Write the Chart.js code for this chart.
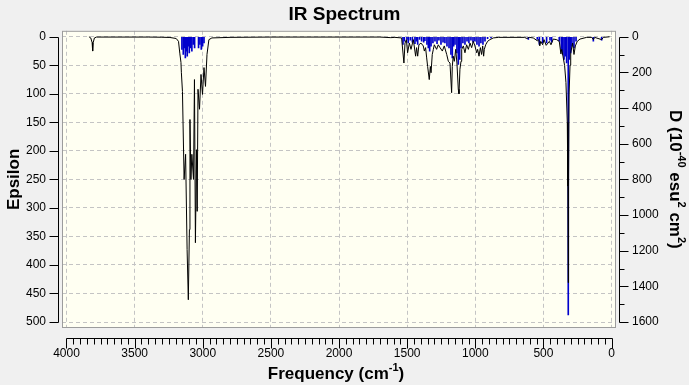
<!DOCTYPE html>
<html>
<head>
<meta charset="utf-8">
<script src="https://cdn.jsdelivr.net/npm/chart.js@4.4.1/dist/chart.umd.min.js"></script>
<style>
  html, body { margin: 0; padding: 0; background: #f0f0f0; }
  #wrap { width: 689px; height: 385px; }
</style>
</head>
<body>
<div id="wrap"><canvas id="irChart" width="689" height="385"></canvas></div>
<script>
// spectrum curve (cm-1, epsilon)
const specFreq = [3835, 3822, 3812, 3808, 3804, 3795, 3780, 3400, 3300, 3241, 3195, 3178, 3168, 3160, 3157, 3149, 3137, 3126, 3115, 3106, 3098, 3094, 3087, 3080, 3068, 3061, 3054, 3046, 3041, 3035, 3024, 3013, 3002, 2991, 2980, 2969, 2955, 2933, 2800, 2500, 1700, 1620, 1590, 1541, 1524, 1516, 1506, 1497, 1484, 1472, 1455, 1438, 1431, 1423, 1414, 1399, 1382, 1374, 1365, 1357, 1350, 1338, 1330, 1325, 1316, 1308, 1301, 1284, 1272, 1259, 1242, 1228, 1210, 1198, 1186, 1174, 1169, 1162, 1154, 1144, 1135, 1125, 1120, 1113, 1105, 1100, 1088, 1076, 1064, 1051, 1039, 1027, 1015, 1003, 990, 983, 973, 963, 954, 946, 939, 934, 924, 910, 893, 868, 831, 640, 620, 605, 575, 545, 535, 527, 520, 506, 496, 480, 457, 445, 428, 403, 384, 372, 366, 357, 345, 335, 325, 321, 318, 316, 312, 305, 300, 286, 276, 266, 252, 232, 183, 145, 134, 124, 73, 60, 15];
const specEps = [0, 2, 10, 25, 10, 2, 0.5, 0.5, 0.8, 1.2, 3, 8, 30, 45, 63, 96, 250, 206, 373, 461, 338, 145, 250, 206, 250, 75, 361, 198, 306, 92, 127, 66, 101, 54, 87, 31, 5, 2, 1, 0.5, 0.5, 1.5, 1, 2, 46, 11, 5, 28, 11, 22, 5, 34, 19, 34, 14, 11, 16, 25, 19, 37, 52, 75, 52, 63, 31, 22, 14, 22, 14, 19, 25, 16, 31, 43, 46, 98, 52, 34, 43, 22, 46, 92, 100, 57, 43, 22, 16, 28, 14, 22, 11, 19, 8, 16, 28, 22, 34, 19, 31, 16, 34, 22, 14, 8, 5, 2, 1, 1, 3, 1, 2, 7, 5, 16, 8, 14, 5, 15, 8, 14, 4, 5, 8, 30, 22, 34, 50, 80, 150, 262, 431, 262, 100, 50, 28, 11, 31, 16, 8, 4, 1, 1, 5, 1, 5, 1, 0];

// stick spectrum (cm-1, D in 10^-40 esu^2 cm^2)
const stickFreq = [3153, 3143, 3136, 3128, 3121, 3114, 3106, 3099, 3089, 3080, 3070, 3060, 3031, 3021, 3011, 3001, 2991,
  1531, 1521, 1502, 1492, 1477, 1462, 1443, 1433, 1423, 1409, 1394, 1379, 1370, 1355, 1345, 1335, 1325, 1311, 1296, 1281, 1267, 1252, 1237, 1223, 1208, 1193, 1179, 1169, 1159, 1149, 1135, 1125, 1115, 1105, 1091, 1076, 1061, 1047, 1032, 1017, 1003, 988, 973, 959, 944, 929, 910, 885,
  611, 545, 530, 506, 477, 452, 440, 384, 369, 359, 349, 340, 330, 318, 310, 300, 291, 276, 261, 134, 73];
const stickD = [71, 99, 62, 118, 81, 109, 53, 90, 62, 81, 43, 62, 62, 43, 71, 53, 34,
  43, 24, 15, 34, 19, 30, 38, 24, 43, 15, 24, 30, 21, 43, 62, 81, 53, 34, 24, 38, 19, 43, 30, 34, 53, 62, 99, 118, 53, 43, 90, 155, 127, 62, 34, 43, 24, 34, 19, 30, 24, 43, 53, 34, 43, 24, 11, 6,
  15, 15, 43, 34, 34, 19, 30, 24, 71, 99, 127, 109, 146, 1560, 127, 90, 53, 62, 24, 24, 19];

const freqTicks = [0, 500, 1000, 1500, 2000, 2500, 3000, 3500, 4000];
const epsTicks = [0, 50, 100, 150, 200, 250, 300, 350, 400, 450, 500];
const dTicks = [0, 200, 400, 600, 800, 1000, 1200, 1400, 1600];

const FONT = '"Liberation Sans", Arial, sans-serif';

function drawRich(ctx, parts, cx, cy, rot) {
  ctx.save();
  ctx.translate(cx, cy);
  ctx.rotate(rot);
  const big = 'bold 17px ' + FONT;
  const small = 'bold 11px ' + FONT;
  let w = 0;
  parts.forEach(p => { ctx.font = p[1] ? small : big; w += ctx.measureText(p[0]).width; });
  let x = -w / 2;
  ctx.textBaseline = 'middle';
  ctx.fillStyle = '#000';
  parts.forEach(p => {
    ctx.font = p[1] ? small : big;
    ctx.fillText(p[0], x, p[1] ? -6 : 0);
    x += ctx.measureText(p[0]).width;
  });
  ctx.restore();
}

const decor = {
  id: 'decor',
  beforeDraw(chart) {
    const {ctx, chartArea: a} = chart;
    ctx.save();
    ctx.fillStyle = '#f0f0f0';
    ctx.fillRect(0, 0, chart.width, chart.height);
    ctx.fillStyle = '#fffff2';
    ctx.fillRect(a.left, a.top, a.right - a.left, a.bottom - a.top);
    ctx.restore();
  },
  afterDraw(chart) {
    const {ctx, chartArea: a, scales} = chart;
    const sx = scales.x, sy = scales.y, sd = scales.y2;
    const r = v => Math.round(v) + 0.5;
    ctx.save();
    ctx.lineWidth = 1;
    ctx.strokeStyle = '#9c9c9c';
    ctx.strokeRect(a.left + 0.5, a.top + 0.5, a.right - a.left - 1, a.bottom - a.top - 1);

    ctx.strokeStyle = '#000';
    ctx.beginPath();
    // left axis
    const lx = r(a.left - 4);
    ctx.moveTo(lx, r(sy.getPixelForValue(0)));
    ctx.lineTo(lx, r(sy.getPixelForValue(500)));
    epsTicks.forEach(v => {
      const p = r(sy.getPixelForValue(v));
      ctx.moveTo(lx, p); ctx.lineTo(lx - 9, p);
    });
    // right axis
    const rx = r(a.right + 3);
    ctx.moveTo(rx, r(sd.getPixelForValue(0)));
    ctx.lineTo(rx, r(sd.getPixelForValue(1600)));
    for (let v = 0; v <= 1600; v += 100) {
      const p = r(sd.getPixelForValue(v));
      ctx.moveTo(rx, p); ctx.lineTo(rx + (v % 200 === 0 ? 9 : 5), p);
    }
    // bottom axis
    const by = r(a.bottom + 10);
    ctx.moveTo(r(sx.getPixelForValue(4000)), by);
    ctx.lineTo(r(sx.getPixelForValue(0)), by);
    for (let v = 0; v <= 4000; v += 50) {
      const p = r(sx.getPixelForValue(v));
      ctx.moveTo(p, by); ctx.lineTo(p, by + (v % 500 === 0 ? 10 : 6));
    }
    ctx.stroke();
    ctx.restore();

    drawRich(ctx, [['Frequency (cm', false], ['-1', true], [')', false]],
      (a.left + a.right) / 2 - 3, 374, 0);
    drawRich(ctx, [['D (10', false], ['-40', true], [' esu', false], ['2', true], [' cm', false], ['2', true], [')', false]],
      675, (a.top + a.bottom) / 2, Math.PI / 2);
  }
};

const tickFont = {family: FONT, size: 12};

new Chart(document.getElementById('irChart'), {
  type: 'line',
  data: {
    datasets: [
      {
        type: 'line',
        data: specFreq.map((f, i) => ({x: f, y: specEps[i]})),
        borderColor: '#000',
        borderWidth: 1,
        pointRadius: 0,
        tension: 0,
        yAxisID: 'y'
      },
      {
        type: 'bar',
        data: stickFreq.map((f, i) => ({x: f, y: stickD[i]})),
        backgroundColor: '#0000cc',
        borderWidth: 0,
        barThickness: 1,
        grouped: false,
        yAxisID: 'y2'
      }
    ]
  },
  options: {
    responsive: false,
    animation: false,
    layout: {padding: 0},
    plugins: {
      legend: {display: false},
      tooltip: {enabled: false},
      title: {
        display: true,
        text: 'IR Spectrum',
        color: '#000',
        font: {family: FONT, size: 19, weight: 'bold'},
        padding: {top: 3, bottom: 5}
      }
    },
    scales: {
      x: {
        type: 'linear',
        position: 'bottom',
        reverse: true,
        offset: false,
        min: -32.3,
        max: 4033,
        afterBuildTicks: s => { s.ticks = freqTicks.map(v => ({value: v})); },
        afterFit: s => { s.height = 57; },
        ticks: {font: tickFont, color: '#000', padding: 18, maxRotation: 0, autoSkip: false, callback: v => String(v)},
        grid: {offset: false, drawTicks: false, color: '#c4c4c4', borderDash: [4, 3]},
        border: {display: false, dash: [4, 3]}
      },
      y: {
        type: 'linear',
        position: 'left',
        reverse: true,
        min: -10.5,
        max: 510.5,
        afterBuildTicks: s => { s.ticks = epsTicks.map(v => ({value: v})); },
        afterFit: s => { s.width = 62; },
        ticks: {font: tickFont, color: '#000', padding: 16, autoSkip: false, callback: v => String(v)},
        grid: {drawTicks: false, color: '#c4c4c4', borderDash: [4, 3]},
        border: {display: false, dash: [4, 3]},
        title: {
          display: true,
          text: 'Epsilon',
          color: '#000',
          font: {family: FONT, size: 17, weight: 'bold'},
          padding: {top: 4, bottom: 0}
        }
      },
      y2: {
        type: 'linear',
        position: 'right',
        reverse: true,
        min: -33.7,
        max: 1633.7,
        afterBuildTicks: s => { s.ticks = dTicks.map(v => ({value: v})); },
        afterFit: s => { s.width = 73; },
        ticks: {font: tickFont, color: '#000', padding: 16, autoSkip: false, callback: v => String(v)},
        grid: {drawTicks: false, drawOnChartArea: false},
        border: {display: false}
      }
    }
  },
  plugins: [decor]
});
</script>
</body>
</html>
